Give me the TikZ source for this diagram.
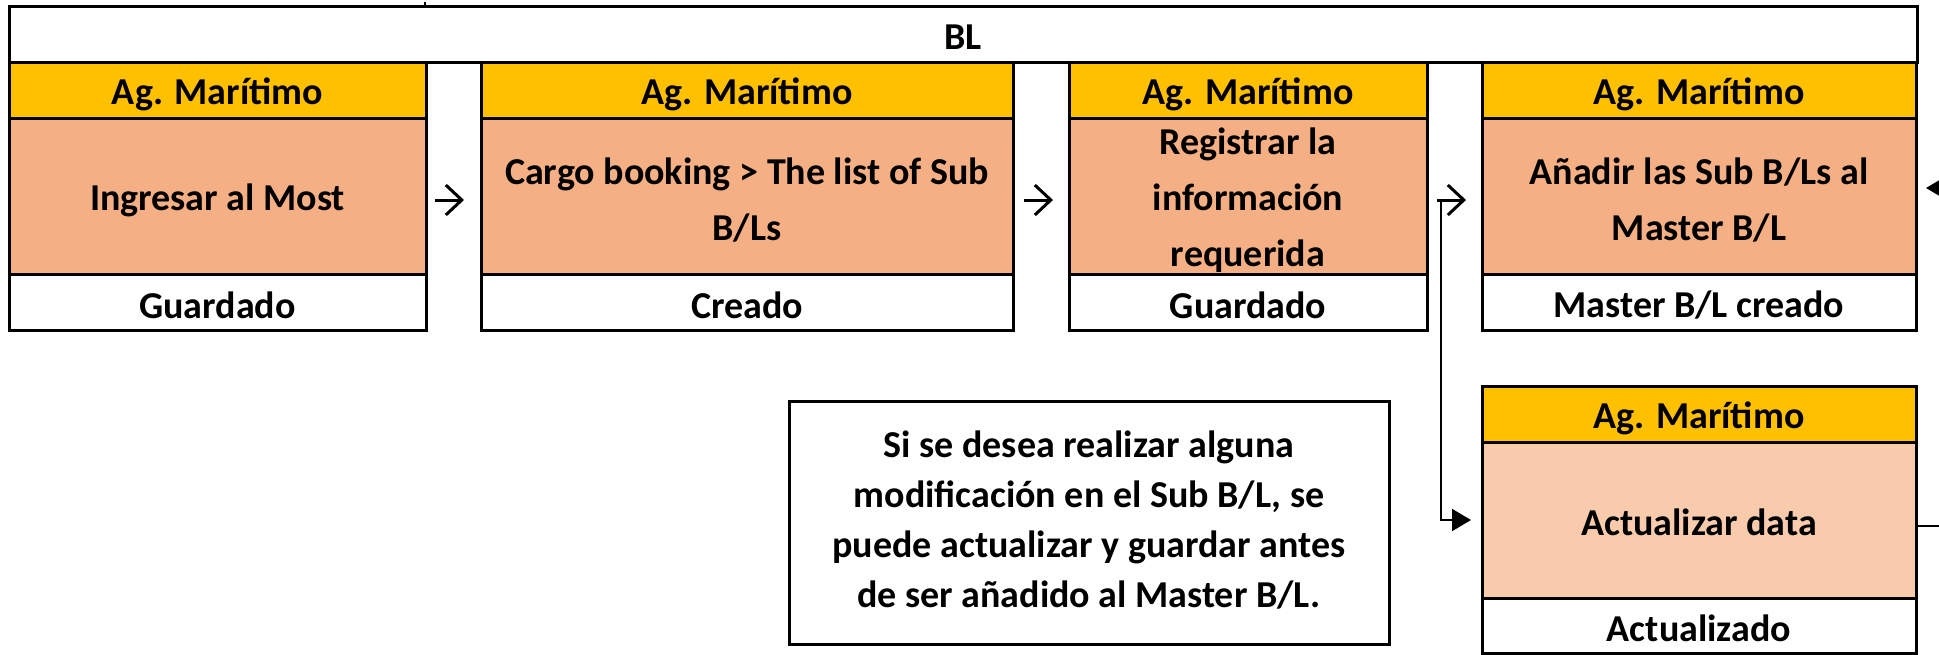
\documentclass[tikz,border=0pt]{standalone}
\usepackage{fontspec}
\setmainfont{Carlito}
\usetikzlibrary{arrows.meta}
\definecolor{hdrcol}{HTML}{FFC000}
\definecolor{bodycol}{HTML}{F4B084}
\definecolor{lightcol}{HTML}{F8CBAD}
\begin{document}
\begin{tikzpicture}[x=0.5pt,y=-0.5pt,
  cell/.style={draw, line width=1.5pt, inner sep=0pt, outer sep=0pt},
  hdr/.style={cell, fill=hdrcol, minimum height=28pt},
  bdy/.style={cell, fill=bodycol, minimum height=78pt},
  lbdy/.style={cell, fill=lightcol, minimum height=78pt},
  ftr/.style={cell, fill=white, minimum height=28pt},
  txt/.style={inner sep=0pt, align=center, font=\bfseries\fontsize{19pt}{28pt}\selectfont},
  notebox/.style={draw, line width=1.5pt, fill=white, inner sep=0pt,
    minimum width=300pt, minimum height=121.5pt},
  notetxt/.style={inner sep=0pt, align=center, font=\bfseries\fontsize{19pt}{25pt}\selectfont},
  openarr/.style={line width=1.5pt, -{Straight Barb[length=8pt,width=15pt]}},
  fillarr/.style={line width=1pt, -{Triangle[length=9.5pt,width=11pt]}},
  thinline/.style={line width=1pt}]
\useasboundingbox (0,0) rectangle (1939,654);
\clip (0,0) rectangle (1939,654);
\fill[white] (0,0) rectangle (1939,654);
% top banner
\node[ftr, minimum width=954pt] (bl) at (963,34) {};
\node[txt] (tbl) at ([yshift=-1.5pt]bl.center) {BL};
\draw[line width=1pt] (425,2) -- (425,6);
% card 1
\node[hdr, minimum width=208.5pt] (h1) at (217.5,90) {};
\node[bdy, minimum width=208.5pt] (b1) at (217.5,196) {};
\node[ftr, minimum width=208.5pt] (f1) at (217.5,302) {};
\node[txt] (th1) at ([yshift=-2pt]h1.center) {Ag. Marítimo};
\node[txt] (tb1) at ([yshift=-2pt]b1.center) {Ingresar al Most};
\node[txt] (tf1) at ([yshift=-1.5pt]f1.center) {Guardado};
% card 2
\node[hdr, minimum width=266pt] (h2) at (747,90) {};
\node[bdy, minimum width=266pt] (b2) at (747,196) {};
\node[ftr, minimum width=266pt] (f2) at (747,302) {};
\node[txt] (th2) at ([yshift=-2pt]h2.center) {Ag. Marítimo};
\node[txt] (tb2) at ([yshift=-2pt]b2.center) {Cargo booking > The list of Sub\\B/Ls};
\node[txt] (tf2) at ([yshift=-1.5pt]f2.center) {Creado};
% card 3
\node[hdr, minimum width=179pt] (h3) at (1248,90) {};
\node[bdy, minimum width=179pt] (b3) at (1248,196) {};
\node[ftr, minimum width=179pt] (f3) at (1248,302) {};
\node[txt] (th3) at ([yshift=-2pt]h3.center) {Ag. Marítimo};
\node[txt] (tb3) at ([yshift=-2pt]b3.center) {Registrar la\\información\\requerida};
\node[txt] (tf3) at ([yshift=-1.5pt]f3.center) {Guardado};
% card 4
\node[hdr, minimum width=217pt] (h4) at (1699,90) {};
\node[bdy, minimum width=217pt] (b4) at (1699,196) {};
\node[ftr, minimum width=217pt] (f4) at (1699,302) {};
\node[txt] (th4) at ([yshift=-2pt]h4.center) {Ag. Marítimo};
\node[txt] (tb4) at ([yshift=-2pt]b4.center) {Añadir las Sub B/Ls al\\Master B/L};
\node[txt] (tf4) at ([yshift=-1.5pt]f4.center) {Master B/L creado};
% lower card
\node[hdr, minimum width=217pt] (lh) at (1699,414) {};
\node[lbdy, minimum width=217pt] (lb) at (1699,520) {};
\node[ftr, minimum width=217pt, minimum height=27.5pt] (lf) at (1699,625.5) {};
\node[txt] (tlh) at ([yshift=-2pt]lh.center) {Ag. Marítimo};
\node[txt] (tlb) at ([yshift=-1pt]lb.center) {Actualizar data};
\node[txt] (tlf) at ([yshift=-1.5pt]lf.center) {Actualizado};
% note
\node[notebox] (note) at (1089,522.5) {};
\node[notetxt] (tnote) at ([yshift=1pt]note.center) {Si se desea realizar alguna\\modificación en el Sub B/L, se\\puede actualizar y guardar antes\\de ser añadido al Master B/L.};
% connectors
\coordinate (rtop) at (1945,188);
\coordinate (rbot) at (1945,526);
\draw[openarr] ([xshift=4.5pt,yshift=-2pt]b1.east) -- ([xshift=-8.5pt,yshift=-2pt]b2.west);
\draw[openarr] ([xshift=5.5pt,yshift=-2pt]b2.east) -- ([xshift=-8pt,yshift=-2pt]b3.west);
\draw[openarr] ([xshift=5pt,yshift=-2pt]b3.east) -- ([xshift=-8pt,yshift=-2pt]b4.west);
\draw[fillarr] ([xshift=7pt,yshift=-2pt]b3.east) |- ([xshift=-5.5pt]lb.west);
\draw[fillarr] (rtop) -- ([xshift=5pt,yshift=4pt]b4.east);
\draw[thinline] ([yshift=-3pt]lb.east) -- (rbot);
\end{tikzpicture}
\end{document}
